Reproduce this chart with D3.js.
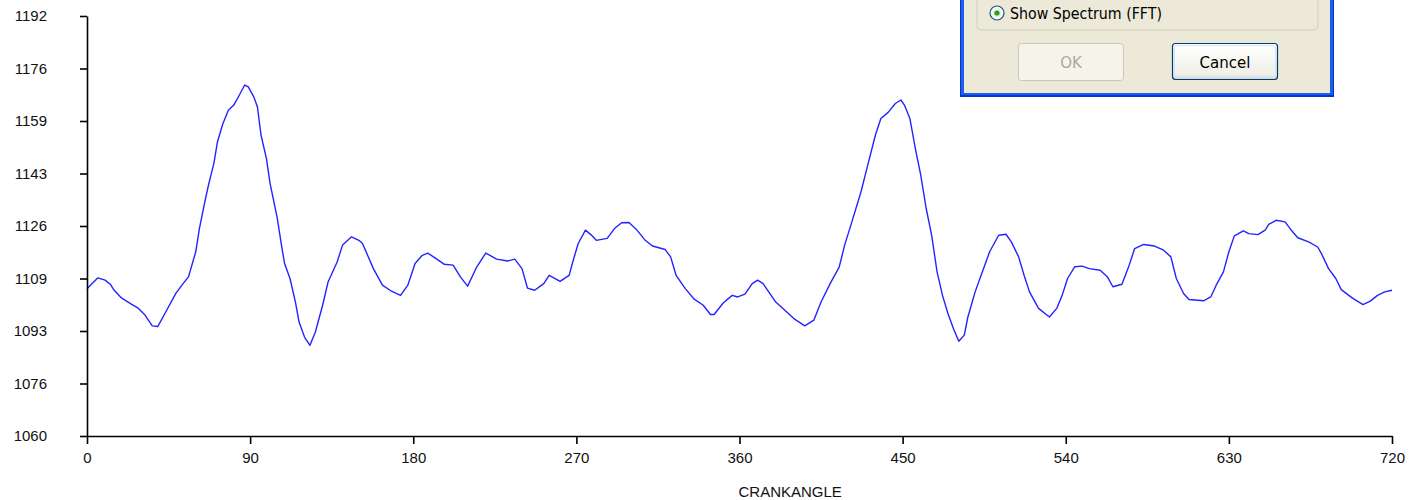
<!DOCTYPE html>
<html>
<head>
<meta charset="utf-8">
<script src="https://cdn.jsdelivr.net/npm/d3@7"></script>
<style>
  html, body { margin: 0; padding: 0; background: #fff; }
  svg { display: block; }
  text { font-family: "Liberation Sans", Arial, sans-serif; }
</style>
</head>
<body>
<svg id="chart" width="1412" height="500"></svg>
<script>
// Crank angle (degrees) and the measured signal along the cycle
const crankAngle = [
  0, 6, 10, 13, 15, 19, 24, 28, 32, 36, 39, 43, 49, 53, 56, 60, 62, 65, 67, 70,
  72, 75, 78, 81, 84, 87, 89, 92, 94, 96, 99, 101, 105, 107, 109, 112, 115, 117, 120, 123,
  126, 130, 133, 138, 141, 146, 150, 152, 158, 163, 168, 173, 177, 181, 185, 188, 192, 197, 202, 206,
  210, 215, 220, 226, 232, 236, 240, 243, 247, 252, 255, 261, 266, 268, 271, 275, 278, 281, 287, 291,
  295, 299, 303, 308, 312, 319, 322, 325, 330, 335, 340, 344, 346, 351, 356, 359, 363, 367, 370, 373,
  380, 385, 390, 396, 401, 405, 410, 415, 418, 422, 427, 431, 435, 438, 442, 446, 449, 451, 454, 457,
  460, 463, 466, 469, 472, 475, 478, 481, 484, 486, 490, 494, 498, 503, 507, 510, 514, 517, 520, 525,
  531, 535, 538, 541, 545, 549, 553, 559, 563, 566, 571, 575, 578, 583, 589, 594, 598, 601, 605, 608,
  616, 620, 623, 627, 630, 633, 638, 641, 646, 650, 652, 656, 661, 664, 668, 674, 679, 681, 685, 689,
  692, 698, 704, 708, 712, 716, 720
];
const signal = [
  1106.3, 1109.7, 1109.0, 1107.6, 1105.8, 1103.4, 1101.6, 1100.3, 1098.0, 1094.6, 1094.4, 1098.5, 1104.8, 1107.9, 1110.0, 1117.9, 1125.2, 1133.6, 1138.8, 1145.7,
  1152.5, 1158.2, 1162.4, 1164.0, 1167.1, 1170.3, 1169.7, 1166.6, 1163.5, 1154.6, 1147.2, 1139.4, 1128.4, 1121.0, 1114.2, 1109.5, 1102.1, 1095.8, 1091.1, 1088.5,
  1092.7, 1101.1, 1108.4, 1114.7, 1120.0, 1122.6, 1121.5, 1120.5, 1112.6, 1107.4, 1105.5, 1104.2, 1107.4, 1114.2, 1116.8, 1117.5, 1116.0, 1114.0, 1113.7, 1110.0,
  1107.1, 1113.1, 1117.5, 1115.6, 1115.0, 1115.6, 1112.6, 1106.5, 1105.8, 1107.9, 1110.5, 1108.6, 1110.5, 1114.7, 1120.5, 1124.7, 1123.3, 1121.5, 1122.1, 1125.2,
  1127.0, 1127.1, 1125.0, 1121.5, 1119.7, 1118.6, 1116.3, 1110.5, 1106.4, 1103.0, 1101.1, 1098.2, 1098.2, 1101.8, 1104.2, 1103.7, 1104.6, 1107.9, 1109.0, 1107.9,
  1102.1, 1099.5, 1096.9, 1094.6, 1096.4, 1102.1, 1107.9, 1113.1, 1120.0, 1127.3, 1136.7, 1145.7, 1154.6, 1159.8, 1161.7, 1164.5, 1165.6, 1164.0, 1159.8, 1150.4,
  1142.0, 1131.5, 1123.1, 1111.6, 1104.2, 1098.5, 1093.8, 1089.8, 1091.7, 1097.4, 1105.3, 1111.6, 1117.9, 1123.1, 1123.4, 1121.0, 1116.3, 1110.5, 1105.3, 1100.1,
  1097.4, 1100.1, 1104.2, 1109.5, 1113.2, 1113.4, 1112.6, 1112.1, 1110.0, 1106.9, 1107.7, 1113.7, 1118.9, 1120.2, 1119.7, 1118.4, 1116.3, 1109.5, 1104.8, 1102.9,
  1102.5, 1103.7, 1107.4, 1111.6, 1117.9, 1122.9, 1124.5, 1123.6, 1123.3, 1124.7, 1126.5, 1127.8, 1127.3, 1125.0, 1122.3, 1121.0, 1119.4, 1117.4, 1112.6, 1109.5,
  1106.0, 1103.4, 1101.3, 1102.4, 1104.2, 1105.3, 1105.8
];

// Axis ticks
const xTickValues = [0, 90, 180, 270, 360, 450, 540, 630, 720];
const yTickValues = [1060, 1076.5, 1093, 1109.5, 1126, 1142.5, 1159, 1175.5, 1192];
const yTickLabels = ["1060", "1076", "1093", "1109", "1126", "1143", "1159", "1176", "1192"];
const xAxisTitle = "CRANKANGLE";

const svg = d3.select("#chart");
svg.append("rect").attr("width", 1412).attr("height", 500).attr("fill", "#fff");

const x = d3.scaleLinear().domain([0, 720]).range([87, 1392]);
const y = d3.scaleLinear().domain([1060, 1192]).range([436, 16]);

// Signal trace
const line = d3.line()
  .x((d, i) => x(crankAngle[i]))
  .y(d => y(d));

svg.append("path")
  .datum(signal)
  .attr("d", line)
  .attr("fill", "none")
  .attr("stroke", "#2323ff")
  .attr("stroke-width", 1.4)
  .attr("stroke-linejoin", "round");

// Axes
const yAxis = d3.axisLeft(y)
  .tickValues(yTickValues)
  .tickFormat((d, i) => yTickLabels[i])
  .tickSize(7)
  .tickSizeOuter(0)
  .tickPadding(33);

const xAxis = d3.axisBottom(x)
  .tickValues(xTickValues)
  .tickFormat(d3.format("d"))
  .tickSize(8)
  .tickSizeOuter(0)
  .tickPadding(8);

function styleAxis(g) {
  g.selectAll(".domain").attr("stroke", "#000").attr("stroke-width", 1.6);
  g.selectAll(".tick line").attr("stroke", "#000").attr("stroke-width", 1.6);
  g.selectAll(".tick text")
    .attr("fill", "#111")
    .style("font-size", "15px")
    .style("font-family", "'Liberation Sans', Arial, sans-serif");
}

svg.append("g").attr("transform", "translate(87,0)").call(yAxis).call(styleAxis);
svg.append("g").attr("transform", "translate(0,436)").call(xAxis).call(styleAxis);

svg.append("text")
  .attr("x", x(360) - 1)
  .attr("y", 497)
  .attr("fill", "#111")
  .style("font-size", "15px")
  .text(xAxisTitle);

// Options dialog overlapping the top-right of the plot
const dlg = svg.append("g");
dlg.append("rect").attr("x", 960).attr("y", -10).attr("width", 374).attr("height", 107)
  .attr("fill", "#0831d9");
dlg.append("rect").attr("x", 961).attr("y", -10).attr("width", 372).attr("height", 105)
  .attr("fill", "#1a5fe8");
dlg.append("rect").attr("x", 964).attr("y", -10).attr("width", 366).attr("height", 103)
  .attr("fill", "#ece9d8");

// group box
dlg.append("rect").attr("x", 977).attr("y", -20).attr("width", 341).attr("height", 50)
  .attr("rx", 4).attr("fill", "none").attr("stroke", "#d0d0bf").attr("stroke-width", 1);

// radio button
const radioDefs = svg.append("defs");
const rg = radioDefs.append("radialGradient").attr("id", "radioFill");
rg.append("stop").attr("offset", "0%").attr("stop-color", "#dcdcd4");
rg.append("stop").attr("offset", "100%").attr("stop-color", "#ffffff");
dlg.append("circle").attr("cx", 997).attr("cy", 13).attr("r", 7)
  .attr("fill", "url(#radioFill)").attr("stroke", "#1c5180").attr("stroke-width", 1.2);
dlg.append("circle").attr("cx", 997).attr("cy", 13).attr("r", 2.6).attr("fill", "#21a121");
dlg.append("text").attr("x", 1010).attr("y", 19).attr("fill", "#000")
  .attr("textLength", 152).attr("lengthAdjust", "spacingAndGlyphs")
  .style("font-size", "15px").style("font-family", "'DejaVu Sans', sans-serif")
  .text("Show Spectrum (FFT)");

// buttons
const btnGrad = radioDefs.append("linearGradient").attr("id", "btnFill")
  .attr("x1", 0).attr("y1", 0).attr("x2", 0).attr("y2", 1);
btnGrad.append("stop").attr("offset", "0%").attr("stop-color", "#ffffff");
btnGrad.append("stop").attr("offset", "85%").attr("stop-color", "#f0efe8");
btnGrad.append("stop").attr("offset", "100%").attr("stop-color", "#d6d0c5");

dlg.append("rect").attr("x", 1018.5).attr("y", 43.5).attr("width", 105).attr("height", 37)
  .attr("rx", 3).attr("fill", "#f5f4ea").attr("stroke", "#cac8bb");
dlg.append("text").attr("x", 1071).attr("y", 68).attr("text-anchor", "middle")
  .attr("fill", "#aca899").style("font-size", "15px")
  .style("font-family", "'DejaVu Sans', sans-serif").text("OK");

dlg.append("rect").attr("x", 1172.5).attr("y", 43.5).attr("width", 105).attr("height", 36)
  .attr("rx", 3).attr("fill", "url(#btnFill)").attr("stroke", "#003c74").attr("stroke-width", 1.2);
dlg.append("rect").attr("x", 1174.5).attr("y", 45.5).attr("width", 101).attr("height", 32)
  .attr("rx", 2).attr("fill", "none").attr("stroke", "#cee7ff").attr("stroke-width", 1);
dlg.append("text").attr("x", 1225).attr("y", 68).attr("text-anchor", "middle")
  .attr("fill", "#000").style("font-size", "15px")
  .style("font-family", "'DejaVu Sans', sans-serif").text("Cancel");
</script>
</body>
</html>
